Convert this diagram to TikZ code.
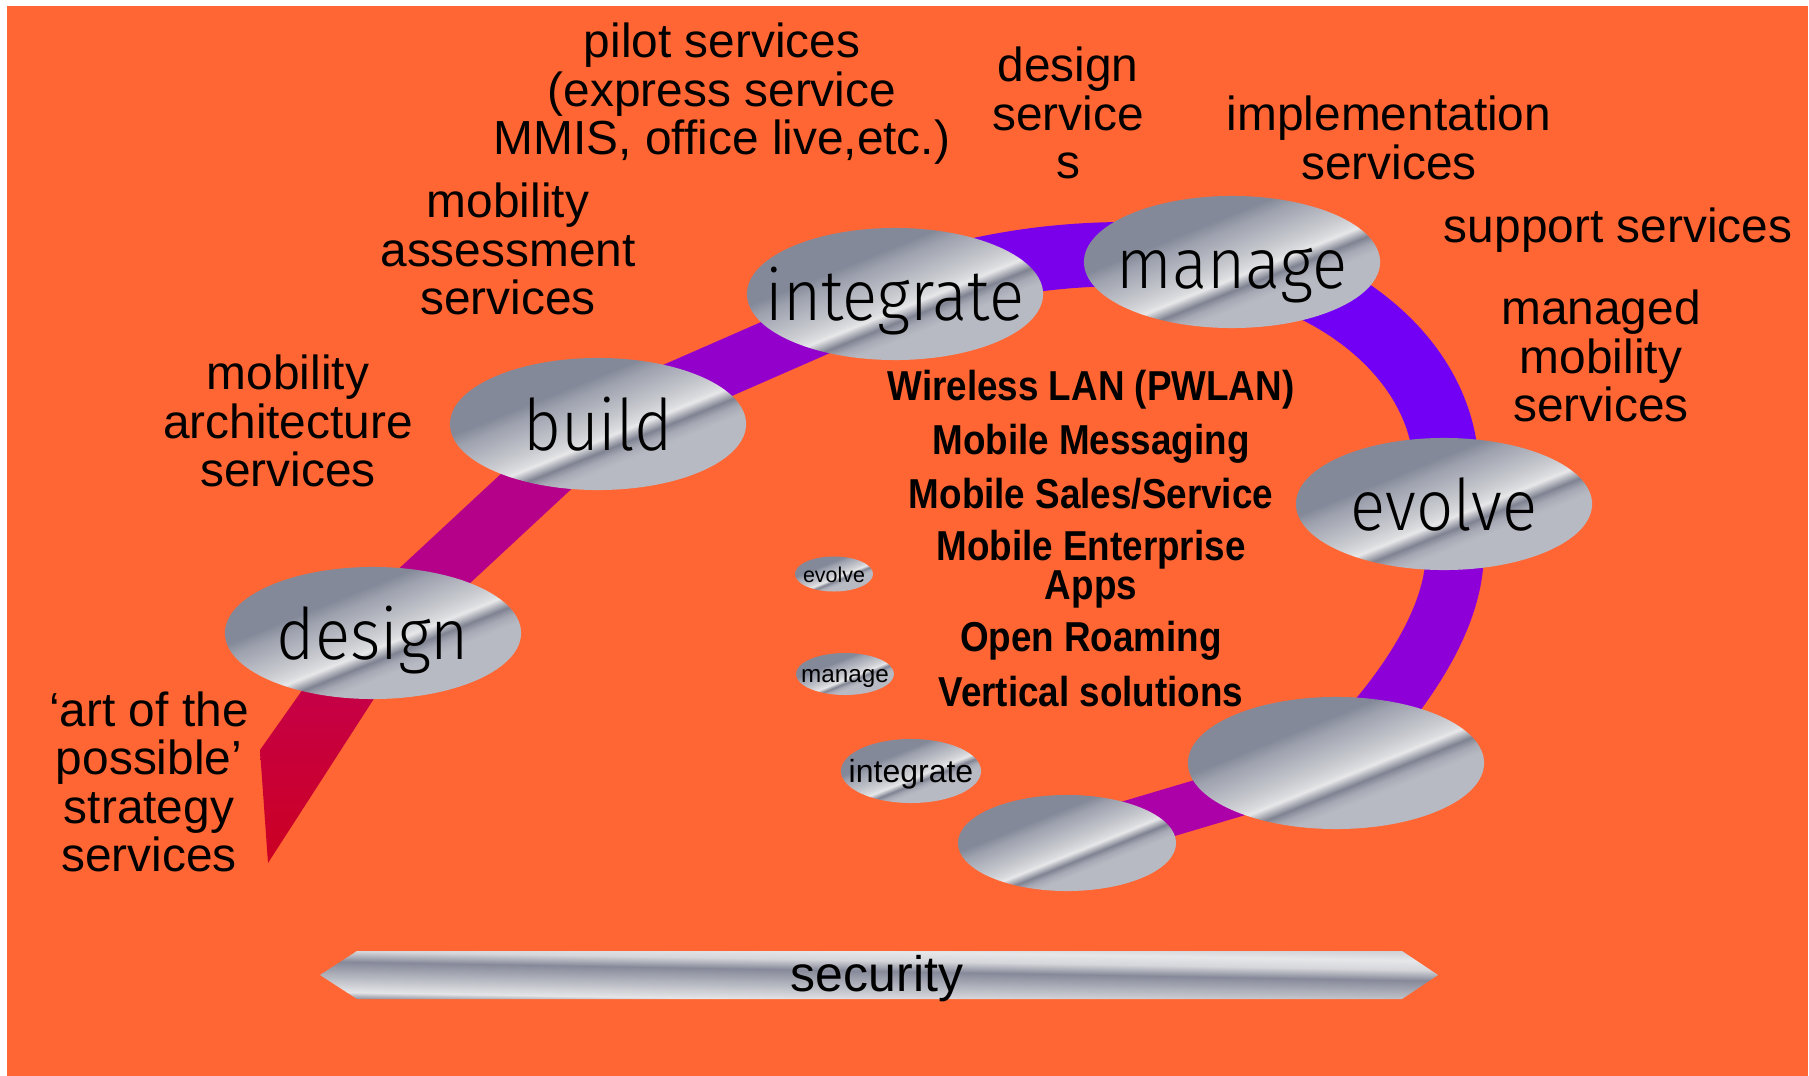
\documentclass[tikz,border=0pt]{standalone}
\usepackage{fontspec}
\setmainfont{Liberation Sans}
\newfontfamily\narrowfont[FakeStretch=0.88]{Liberation Sans}
\newfontfamily\lightfont[FakeStretch=0.92]{Fira Sans Light}
\usetikzlibrary{shapes.geometric}
\definecolor{bgorange}{HTML}{FF6633}
\definecolor{mA}{HTML}{848999}
\definecolor{mB}{HTML}{9DA1AE}
\definecolor{mC}{HTML}{C8CACF}
\definecolor{mD}{HTML}{DADBDE}
\definecolor{mE}{HTML}{E8E8EA}
\definecolor{mF}{HTML}{D4D5D9}
\definecolor{mG}{HTML}{7F8291}
\definecolor{mH}{HTML}{A6A9B4}
\definecolor{mI}{HTML}{B8BAC3}
\definecolor{bA}{HTML}{8D909E}
\definecolor{bB}{HTML}{E4E5E7}
\definecolor{bC}{HTML}{868999}
\definecolor{bD}{HTML}{D5D6DA}
\definecolor{bE}{HTML}{E6E7E9}
\definecolor{bF}{HTML}{CFD1D5}
\definecolor{rTailTop}{HTML}{C4004C}
\definecolor{rTailBot}{HTML}{CC0022}
\definecolor{rSB}{HTML}{B5008A}
\definecolor{rSC}{HTML}{9300CC}
\definecolor{rSD}{HTML}{7A00EC}
\definecolor{rSE}{HTML}{7100F4}
\definecolor{rSF}{HTML}{8E00D8}
\definecolor{rSG}{HTML}{AC00A8}
\pgfdeclarehorizontalshading{metal}{100bp}{color(0bp)=(mA); color(37.6bp)=(mA); color(40.9bp)=(mB); color(50bp)=(mC); color(53bp)=(mD); color(54.3bp)=(mE); color(54.9bp)=(mF); color(57.5bp)=(mG); color(59.7bp)=(mH); color(62.4bp)=(mI); color(100bp)=(mI)}
\pgfdeclareverticalshading{metalbar}{100bp}{color(0bp)=(bA); color(25bp)=(bA); color(30bp)=(bB); color(53bp)=(bC); color(61bp)=(bD); color(68bp)=(bE); color(75bp)=(bF); color(100bp)=(bF)}
\pgfdeclarelayer{bg}
\pgfsetlayers{bg,main}
\begin{document}
\begin{tikzpicture}[x=0.01cm,y=-0.01cm,
  metalnode/.style={ellipse, inner sep=0pt, shade, shading=metal, shading angle=-68, draw=none},
  bigell/.style={metalnode, minimum width=2.96cm, minimum height=1.32cm},
  biglab/.style={font=\lightfont\fontsize{20.2}{22}\selectfont, text height=0pt, text depth=0pt, yshift=-0.26cm, inner sep=0pt},
  smalllab/.style={text height=0pt, text depth=0pt, inner sep=0pt},
  svc/.style={align=center, font=\fontsize{13.6}{13.8}\selectfont, inner sep=0pt},
  item/.style={align=center, font=\narrowfont\bfseries\fontsize{11.9}{11.1}\selectfont, inner sep=0pt},
  band/.style={line width=#1, line cap=round, line join=round}
]
\useasboundingbox (0,0) rectangle (1809,1076);

% ellipses
\node[bigell, label={[biglab]center:design}] (design) at (373,633) {};
\node[bigell, label={[biglab]center:build}] (build) at (598,424) {};
\node[bigell, label={[biglab]center:integrate}] (integrate) at (895,294) {};
\node[bigell, label={[biglab]center:manage}] (manage) at (1232,262) {};
\node[bigell, label={[biglab]center:evolve}] (evolve) at (1444,504) {};
\node[bigell] (bigblank) at (1336,763) {};
\node[metalnode, minimum width=2.18cm, minimum height=0.96cm] (smallblank) at (1067,843) {};
\node[metalnode, minimum width=0.78cm, minimum height=0.35cm,
  label={[smalllab, font=\fontsize{6.1}{7}\selectfont, yshift=-0.08cm]center:evolve}] (sevolve) at (834,574) {};
\node[metalnode, minimum width=0.98cm, minimum height=0.42cm,
  label={[smalllab, font=\fontsize{6.9}{8}\selectfont, yshift=-0.08cm]center:manage}] (smanage) at (845,674) {};
\node[metalnode, minimum width=1.40cm, minimum height=0.64cm,
  label={[smalllab, font=\fontsize{9.1}{10}\selectfont, yshift=-0.11cm]center:integrate}] (sintegrate) at (911,771) {};

% background and ribbon
\begin{pgfonlayer}{bg}
\fill[white] (0,0) rectangle (1809,1076);
\fill[bgorange] (7,6) rectangle (1808,1076);
\coordinate (tailL) at (260,750);
\coordinate (tailT) at (268,863);
\shade[top color=rTailTop, bottom color=rTailBot] (tailL) -- (tailT) -- ([shift={(22,33)}]design.center) -- ([shift={(-53,32)}]design.center) -- cycle;
\draw[band=0.59cm, draw=rSB] (design.center) -- (build.center);
\draw[band=0.56cm, draw=rSC] (build.center) -- (integrate.center);
\draw[band=0.64cm, draw=rSD] (integrate.center) .. controls (1000,255) and (1120,245) .. (manage.center);
\draw[band=0.65cm, draw=rSE] (manage.center) .. controls (1352,285) and (1465,378) .. (evolve.center);
\draw[band=0.58cm, draw=rSF] (evolve.center) .. controls (1485,590) and (1400,700) .. (bigblank.center);
\draw[band=0.48cm, draw=rSG] (bigblank.center) -- (smallblank.center);
\end{pgfonlayer}

% security bar
\shade[shading=metalbar, shading angle=-1] (320,975) -- (357,951) -- (1402,951) -- (1438,975) -- (1402,999) -- (357,999) -- cycle;
\node[font=\fontsize{14.2}{15}\selectfont, inner sep=0pt] (security) at (877,979) {security};

% service labels
\node[svc] (pilot) at (722,94) {pilot services\\(express service\\MMIS, office live,etc.)};
\node[svc] (designsvc) at (1068,113) {design\\service\\s};
\node[svc] (impl) at (1389,138) {implementation\\services};
\node[svc] (support) at (1618,230) {support services};
\node[svc] (managed) at (1601,356) {managed\\mobility\\services};
\node[svc] (assess) at (508,249) {mobility\\assessment\\services};
\node[svc] (arch) at (288,421) {mobility\\architecture\\services};
\node[svc] (art) at (149,782) {‘art of the\\possible’\\strategy\\services};

% bold list
\node[item] (wlan) at (1091,390) {Wireless LAN (PWLAN)};
\node[item] (msg) at (1091,444) {Mobile Messaging};
\node[item] (sales) at (1091,494) {Mobile Sales/Service};
\node[item] (apps) at (1091,569) {Mobile Enterprise\\Apps};
\node[item] (roam) at (1091,641) {Open Roaming};
\node[item] (vert) at (1091,692) {Vertical solutions};
\end{tikzpicture}
\end{document}
